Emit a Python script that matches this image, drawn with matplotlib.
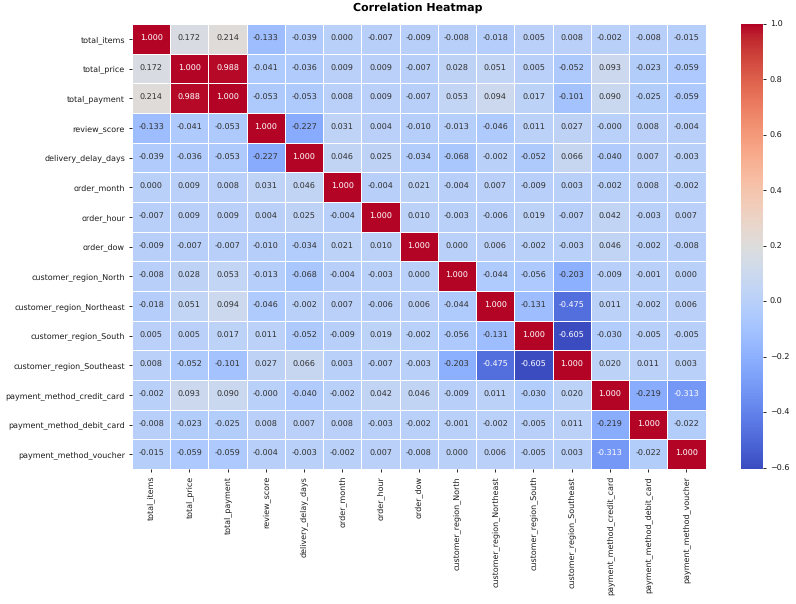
import numpy as np
import matplotlib
matplotlib.use("Agg")
import matplotlib.pyplot as plt

plt.rcParams["text.hinting"] = "no_hinting"
plt.rcParams["text.hinting_factor"] = 1

labels = ["total_items", "total_price", "total_payment", "review_score",
          "delivery_delay_days", "order_month", "order_hour", "order_dow",
          "customer_region_North", "customer_region_Northeast",
          "customer_region_South", "customer_region_Southeast",
          "payment_method_credit_card", "payment_method_debit_card",
          "payment_method_voucher"]

total_items    = [1.000, 0.172, 0.214, -0.133, -0.039, 0.000, -0.007, -0.009, -0.008, -0.018, 0.005, 0.008, -0.002, -0.008, -0.015]
total_price    = [0.172, 1.000, 0.988, -0.041, -0.036, 0.009, 0.009, -0.007, 0.028, 0.051, 0.005, -0.052, 0.093, -0.023, -0.059]
total_payment  = [0.214, 0.988, 1.000, -0.053, -0.053, 0.008, 0.009, -0.007, 0.053, 0.094, 0.017, -0.101, 0.090, -0.025, -0.059]
review_score   = [-0.133, -0.041, -0.053, 1.000, -0.227, 0.031, 0.004, -0.010, -0.013, -0.046, 0.011, 0.027, -0.0004, 0.008, -0.004]
delivery_delay = [-0.039, -0.036, -0.053, -0.227, 1.000, 0.046, 0.025, -0.034, -0.068, -0.002, -0.052, 0.066, -0.040, 0.007, -0.003]
order_month    = [0.000, 0.009, 0.008, 0.031, 0.046, 1.000, -0.004, 0.021, -0.004, 0.007, -0.009, 0.003, -0.002, 0.008, -0.002]
order_hour     = [-0.007, 0.009, 0.009, 0.004, 0.025, -0.004, 1.000, 0.010, -0.003, -0.006, 0.019, -0.007, 0.042, -0.003, 0.007]
order_dow      = [-0.009, -0.007, -0.007, -0.010, -0.034, 0.021, 0.010, 1.000, 0.000, 0.006, -0.002, -0.003, 0.046, -0.002, -0.008]
region_north   = [-0.008, 0.028, 0.053, -0.013, -0.068, -0.004, -0.003, 0.000, 1.000, -0.044, -0.056, -0.203, -0.009, -0.001, 0.000]
region_neast   = [-0.018, 0.051, 0.094, -0.046, -0.002, 0.007, -0.006, 0.006, -0.044, 1.000, -0.131, -0.475, 0.011, -0.002, 0.006]
region_south   = [0.005, 0.005, 0.017, 0.011, -0.052, -0.009, 0.019, -0.002, -0.056, -0.131, 1.000, -0.605, -0.030, -0.005, -0.005]
region_seast   = [0.008, -0.052, -0.101, 0.027, 0.066, 0.003, -0.007, -0.003, -0.203, -0.475, -0.605, 1.000, 0.020, 0.011, 0.003]
pay_credit     = [-0.002, 0.093, 0.090, -0.0004, -0.040, -0.002, 0.042, 0.046, -0.009, 0.011, -0.030, 0.020, 1.000, -0.219, -0.313]
pay_debit      = [-0.008, -0.023, -0.025, 0.008, 0.007, 0.008, -0.003, -0.002, -0.001, -0.002, -0.005, 0.011, -0.219, 1.000, -0.022]
pay_voucher    = [-0.015, -0.059, -0.059, -0.004, -0.003, -0.002, 0.007, -0.008, 0.000, 0.006, -0.005, 0.003, -0.313, -0.022, 1.000]

corr = np.array([total_items, total_price, total_payment, review_score, delivery_delay,
                 order_month, order_hour, order_dow, region_north, region_neast,
                 region_south, region_seast, pay_credit, pay_debit, pay_voucher])

W, H = 796, 604
fig = plt.figure(figsize=(W / 100, H / 100), dpi=100)

# axes placed in pixel positions
ax = fig.add_axes([132 / W, 1 - 469 / H, (705.5 - 132) / W, (469 - 24) / H])
cax = fig.add_axes([741 / W, 1 - 469 / H, 22 / W, (469 - 24) / H])

vmin, vmax = corr.min(), corr.max()
n = len(labels)
mesh = ax.pcolormesh(np.arange(n + 1), np.arange(n + 1), corr, cmap="coolwarm",
                     vmin=vmin, vmax=vmax, edgecolors="white", linewidth=0.4)
ax.set_xlim(0, n)
ax.set_ylim(n, 0)

# annotations, light text on dark cells like seaborn does
for i in range(n):
    for j in range(n):
        r, g, b, _ = mesh.cmap(mesh.norm(corr[i, j]))
        lum = 0.2126 * r ** 2.2 + 0.7152 * g ** 2.2 + 0.0722 * b ** 2.2
        color = "0.2" if lum > 0.408 else "white"
        ax.text(j + 0.5, i + 0.5, f"{corr[i, j]:.3f}", ha="center", va="center",
                fontsize=5.5, color=color)

ax.set_xticks(np.arange(n) + 0.5)
ax.set_xticklabels(labels, rotation=90, fontsize=5.7, color="0.1")
ax.set_yticks(np.arange(n) + 0.5)
ax.set_yticklabels(labels, rotation=0, fontsize=5.7, color="0.1")
ax.tick_params(length=2.5, width=0.6, pad=2.5)
for s in ax.spines.values():
    s.set_visible(False)

cb = fig.colorbar(mesh, cax=cax)
cb.set_ticks([-0.6, -0.4, -0.2, 0.0, 0.2, 0.4, 0.6, 0.8, 1.0])
cb.ax.tick_params(labelsize=5.7, length=2.5, width=0.6, pad=2.5, labelcolor="0.1")
cb.outline.set_visible(False)

fig.text(418 / W, 1 - 8 / H, "Correlation Heatmap", ha="center", va="center",
         fontsize=8.2, fontweight="bold")

fig.savefig("out.png", dpi=100)
